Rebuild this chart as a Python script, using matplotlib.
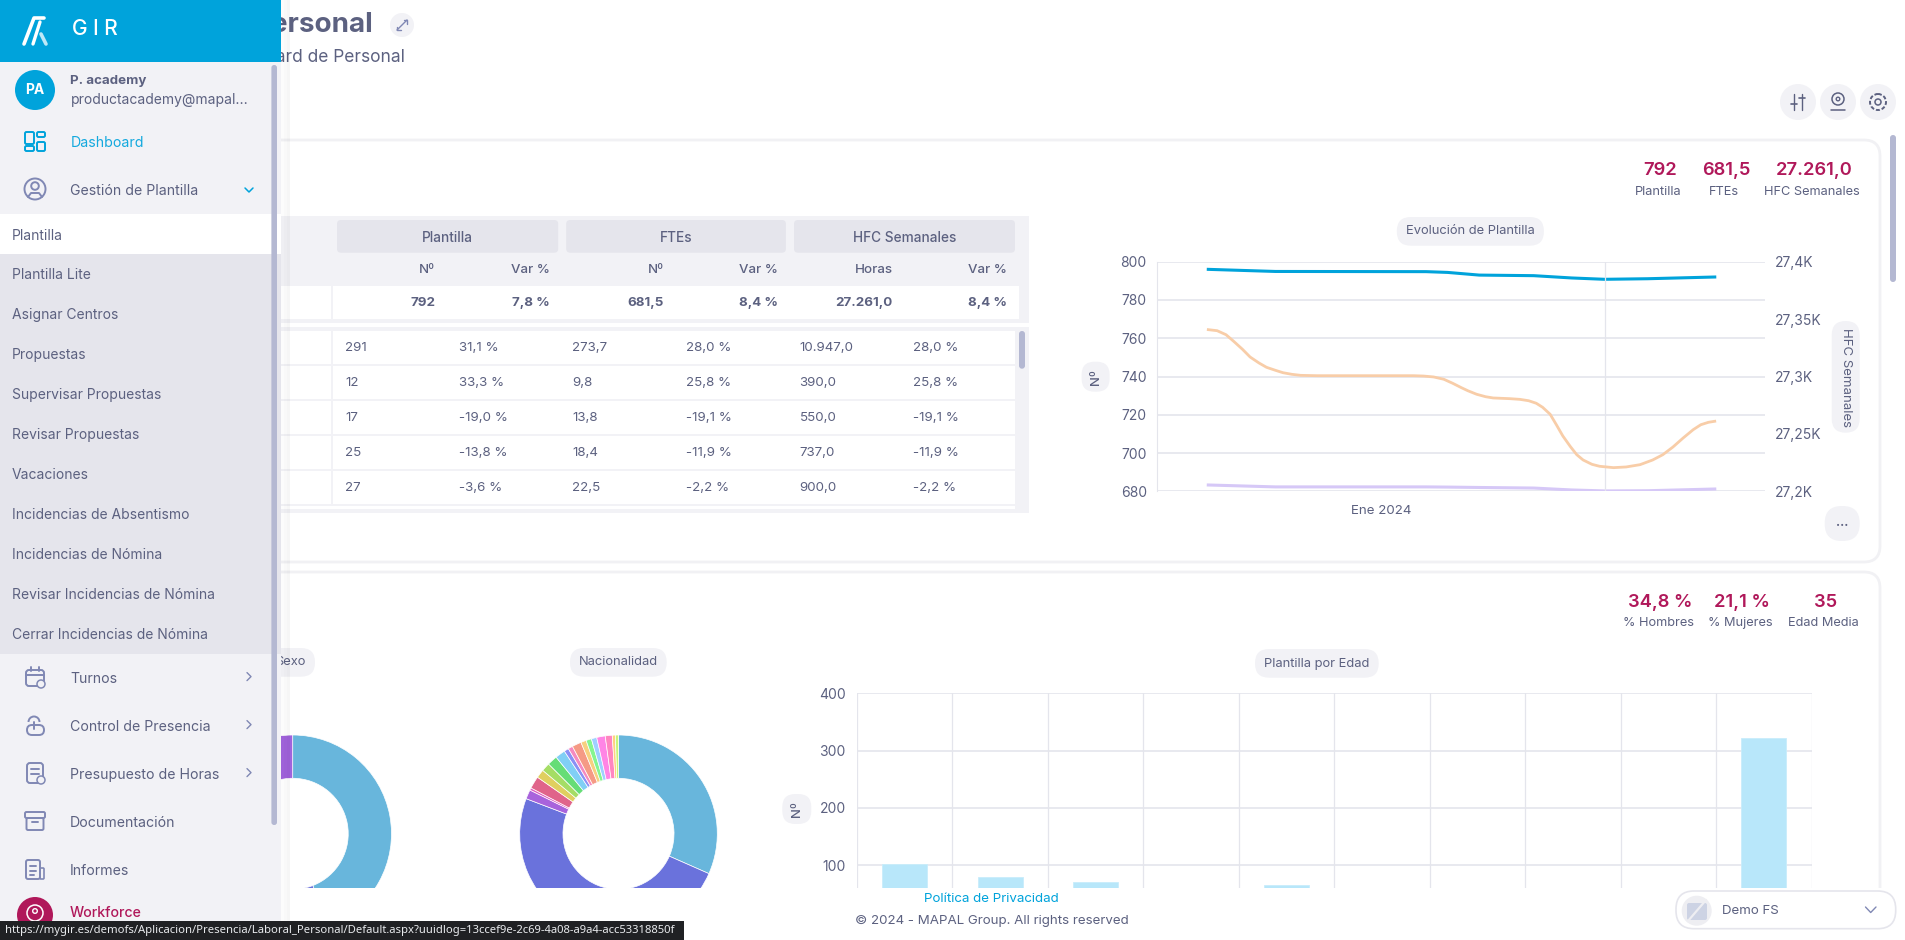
import matplotlib
matplotlib.use("Agg")
import matplotlib.pyplot as plt
from matplotlib.patches import FancyBboxPatch, Circle, Rectangle, Arc

W, H = 1905, 940
plt.rcParams['font.family'] = ['Inter', 'DejaVu Sans']

# evolucion de plantilla (x = semana del mes)
hfc_x = [0, 0.07, 0.14, 0.20, 0.27, 0.33, 0.40, 0.46, 0.53, 0.59, 0.66, 0.73, 0.86, 1.62, 1.70,
         1.78, 1.86, 1.93, 2.0, 2.05, 2.12, 2.19, 2.25, 2.38, 2.46, 2.53, 2.59, 2.64, 2.70, 2.75,
         2.80, 2.86, 2.91, 2.96, 3.03, 3.09, 3.20, 3.30, 3.41, 3.51, 3.59, 3.67, 3.75, 3.83,
         3.89, 3.95, 4]
hfc_semanales = [27340.8, 27339.9, 27336.4, 27330.7, 27323.7, 27317, 27311.8, 27308, 27305.4,
                 27303.3, 27301.9, 27301, 27300.7, 27300.7, 27300.4, 27299.6, 27297.6, 27294.1,
                 27290.2, 27287.6, 27284.5, 27282.4, 27281.3, 27280.7, 27280.1, 27278.9, 27276.7,
                 27273.2, 27267.1, 27257.8, 27248.2, 27238.9, 27231.9, 27227.3, 27223.5, 27221.8,
                 27220.6, 27221.2, 27223.2, 27227.3, 27231.9, 27238.6, 27246.4, 27253.7, 27258,
                 27260.1, 27261]
plantilla_x = [0, 0.53, 1.72, 1.89, 2.14, 2.57, 2.87, 3.13, 3.47, 4]
plantilla_n = [796, 794.9, 794.8, 794.4, 793, 792.7, 791.5, 790.8, 791.1, 792]
ftes_n = [683.3, 682.3, 682.3, 682.2, 682, 681.7, 680.7, 680.2, 680.3, 681.2]

# plantilla por edad (los valores bajo el corte son estimados)
edad_pos = [0, 1, 2, 3, 4, 5, 6, 7, 8, 9]
edad_n = [102, 80, 70, 45, 65, 35, 30, 25, 18, 322]

# donuts
sexo_vals = [44.1, 34.8, 21.1]
sexo_cols = ['#68B6DC', '#6A72DC', '#A063DC']
nac_vals = [250, 389, 12, 3, 16, 11, 11, 13, 13, 6, 6, 12, 7, 7, 7, 11, 9, 4, 4]
nac_cols = ['#68B6DC', '#6A72DC', '#A863DC', '#E05FC0', '#E0648A', '#E0CF60', '#A5DD65',
            '#66DD77', '#80CFF5', '#8A90F5', '#F58AC0', '#F59A85', '#F7D080', '#85F590',
            '#9FD0FF', '#FF85E5', '#FF85C0', '#FFD080', '#C8F57A']

# tabla
cols_x = [345, 458.9, 572.3, 686, 799.5, 913.3]
head_x = [435.2, 549.6, 664, 777.8, 892.7, 1006.6]
head_sub = ['Nº', 'Var %', 'Nº', 'Var %', 'Horas', 'Var %']
total_row = ['792', '7,8 %', '681,5', '8,4 %', '27.261,0', '8,4 %']
rows = [['291', '31,1 %', '273,7', '28,0 %', '10.947,0', '28,0 %'],
        ['12', '33,3 %', '9,8', '25,8 %', '390,0', '25,8 %'],
        ['17', '-19,0 %', '13,8', '-19,1 %', '550,0', '-19,1 %'],
        ['25', '-13,8 %', '18,4', '-11,9 %', '737,0', '-11,9 %'],
        ['27', '-3,6 %', '22,5', '-2,2 %', '900,0', '-2,2 %']]

# menu lateral
submenu = ['Plantilla Lite', 'Asignar Centros', 'Propuestas', 'Supervisar Propuestas',
           'Revisar Propuestas', 'Vacaciones', 'Incidencias de Absentismo',
           'Incidencias de Nómina', 'Revisar Incidencias de Nómina', 'Cerrar Incidencias de Nómina']
menu_low = ['Turnos', 'Control de Presencia', 'Presupuesto de Horas', 'Documentación', 'Informes']

TXT = '#5C6180'
ICON = '#8088B4'
BLUE = '#00A3DB'
RED = '#B0185A'
LIGHT = '#F2F2F6'
MID = '#E5E5EC'
GRID = '#E4E5EC'
THUMB = '#B4B8D2'

fig = plt.figure(figsize=(W / 100, H / 100), dpi=100, facecolor='white')


def px_axes(x0, y0, x1, y1, z):
    ax = fig.add_axes([x0 / W, 1 - y1 / H, (x1 - x0) / W, (y1 - y0) / H], zorder=z)
    ax.patch.set_alpha(0)
    return ax


def page_axes(z):
    ax = px_axes(0, 0, W, H, z)
    ax.set_xlim(0, W)
    ax.set_ylim(H, 0)
    ax.axis('off')
    return ax


def box(ax, x0, y0, x1, y1, color, r=0, ec='none', lw=0, z=1, alpha=None):
    if r:
        p = FancyBboxPatch((x0 + r, y0 + r), x1 - x0 - 2 * r, y1 - y0 - 2 * r,
                           boxstyle='round,pad=%f,rounding_size=%f' % (r, r),
                           fc=color, ec=ec, lw=lw, zorder=z, alpha=alpha)
    else:
        p = Rectangle((x0, y0), x1 - x0, y1 - y0, fc=color, ec=ec, lw=lw, zorder=z, alpha=alpha)
    ax.add_patch(p)


def label(ax, x, y, s, size=10, color=TXT, ha='center', weight='normal', rot=0, z=3, family=None):
    if rot == 0:
        y = y + 1
    ax.text(x, y, s, fontsize=size, color=color, ha=ha, va='center', fontweight=weight,
            rotation=rot, rotation_mode='anchor', zorder=z, family=family)


def stroke(ax, xs, ys, color=ICON, lw=1.4, z=3):
    ax.plot(xs, ys, color=color, lw=lw, zorder=z, solid_capstyle='round')


def ring(ax, x, y, r, color=ICON, lw=1.4, z=6, fc='none'):
    ax.add_patch(Circle((x, y), r, fc=fc, ec=color, lw=lw, zorder=z))


bg = page_axes(0)
top = page_axes(5)

# tarjetas
box(bg, 200, 140, 1880, 562, 'white', r=16, ec='#F1F1F4', lw=2)
box(bg, 200, 572, 1880, 930, 'white', r=16, ec='#F1F1F4', lw=2)

# cabecera
label(bg, 373, 24, 'Personal', size=20, ha='right', weight='bold')
label(bg, 405, 56, 'Dashboard de Personal', size=12.5, ha='right')
bg.add_patch(Circle((402, 25), 12, fc=LIGHT, ec='none'))
stroke(bg, [397, 407], [30, 20], lw=1)
stroke(bg, [403.5, 407, 407], [20, 20, 23.5], lw=1)
stroke(bg, [397, 397, 400.5], [26.5, 30, 30], lw=1)
for cx in [1798, 1838, 1878]:
    bg.add_patch(Circle((cx, 102), 18, fc=LIGHT, ec='none'))
stroke(bg, [1794, 1794], [94, 110], color=TXT, lw=1)
stroke(bg, [1802, 1802], [94, 110], color=TXT, lw=1)
stroke(bg, [1791, 1797], [104, 104], color=TXT, lw=1.2)
stroke(bg, [1799, 1805], [98, 98], color=TXT, lw=1.2)
ring(bg, 1838, 99, 6, color=TXT, lw=1.1, z=3)
ring(bg, 1838, 99, 1.8, color=TXT, lw=1, z=3)
stroke(bg, [1831, 1845], [110, 110], color=TXT, lw=1.1)
bg.add_patch(Circle((1878, 102), 8, fc='none', ec=TXT, lw=1.4, ls=(0, (2, 1))))
ring(bg, 1878, 102, 3, color=TXT, lw=1.1, z=3)

# KPIs
for x, y, s in [(1660, 169.7, '792'), (1726, 169.7, '681,5'), (1814, 169.7, '27.261,0'),
                (1660.3, 601.7, '34,8 %'), (1742, 601.7, '21,1 %'), (1825.3, 601.7, '35')]:
    label(bg, x, y, s, size=13.2, color=RED, weight='semibold')
for x, y, s in [(1658.2, 190.7, 'Plantilla'), (1724, 190.7, 'FTEs'), (1812.3, 190.7, 'HFC Semanales'),
                (1658.8, 622.3, '% Hombres'), (1740.6, 622.3, '% Mujeres'), (1823, 622.3, 'Edad Media')]:
    label(bg, x, y, s, size=9.2)

# tabla
box(bg, 200, 216, 1028.7, 322.7, LIGHT)
for x0, x1, s in [(337, 558.2, 'Plantilla'), (566.2, 785.9, 'FTEs'), (794, 1015, 'HFC Semanales')]:
    box(bg, x0, 220, x1, 252.7, MID, r=4)
    label(bg, (x0 + x1) / 2, 236.5, s, size=9.8, weight='medium')
for x, s in zip(head_x, head_sub):
    label(bg, x, 269.3, s, size=9.6, ha='right', weight='medium')
box(bg, 200, 286, 1019.2, 318.7, 'white')
box(bg, 331, 286, 332.5, 318.7, LIGHT)
for x, s in zip(head_x, total_row):
    label(bg, x, 301.7, s, size=9.6, ha='right', weight='bold')
box(bg, 200, 326.7, 1028.7, 512.7, LIGHT)
row_y = [331, 366, 401, 436, 471]
for y, row in zip(row_y, rows):
    box(bg, 200, y, 1015, y + 33, 'white')
    box(bg, 331, y, 332.5, y + 33, LIGHT)
    for x, s in zip(cols_x, row):
        label(bg, x, y + 16, s, size=9.6, ha='left')
box(bg, 200, 506, 1015, 508.7, 'white')
box(bg, 1019, 331, 1025, 368.7, THUMB, r=3)

# pastillas de titulos
box(bg, 1396.8, 217, 1543.9, 245.7, LIGHT, r=14)
label(bg, 1470, 230.5, 'Evolución de Plantilla', size=9.3)
box(bg, 1081.6, 361.7, 1109.6, 391.7, LIGHT, r=13)
label(bg, 1096, 376.7, 'Nº', size=9.5, rot=90, weight='medium')
box(bg, 1831.7, 321, 1859.7, 432.7, LIGHT, r=14)
label(bg, 1845.7, 377, 'HFC Semanales', size=9.5, rot=-90)
box(bg, 1824.7, 506, 1859.7, 541, LIGHT, r=17)
label(bg, 1842.2, 522, '...', size=9, weight='bold')
box(bg, 1255, 649, 1378.7, 677.7, LIGHT, r=14)
label(bg, 1317, 662.5, 'Plantilla por Edad', size=9.3)
box(bg, 782.3, 794, 811.3, 824, LIGHT, r=13)
label(bg, 797, 809, 'Nº', size=9.5, rot=90, weight='medium')
box(bg, 570, 648, 666.7, 676.7, LIGHT, r=14)
label(bg, 618.3, 661, 'Nacionalidad', size=9.3)
box(bg, 230, 648, 315, 676.7, LIGHT, r=14)
label(bg, 306, 661, 'Sexo', size=9.3, ha='right')

# evolucion
ax = px_axes(1156.5, 261.7, 1764.9, 491.3, 1)
ax2 = ax.twinx()
ax2.patch.set_alpha(0)
ax.plot(plantilla_x, plantilla_n, color=BLUE, lw=2.2)
ax.plot(plantilla_x, ftes_n, color='#D6C8F7', lw=2.2)
ax2.plot(hfc_x, hfc_semanales, color='#F8CDA8', lw=2)
ax.set_xlim(-0.409, 4.396)
ax.set_ylim(680, 800)
ax2.set_ylim(27200, 27400)
ax.set_yticks([680, 700, 720, 740, 760, 780, 800])
ax2.set_yticks([27200, 27250, 27300, 27350, 27400])
ax2.set_yticklabels(['27,2K', '27,25K', '27,3K', '27,35K', '27,4K'])
ax.set_xticks([1.366])
ax.set_xticklabels(['Ene 2024'])
ax.axvline(3.136, color=GRID, lw=0.9)
ax.grid(axis='y', color=GRID, lw=1.2)
ax.set_axisbelow(True)
for a in (ax, ax2):
    for side, sp in a.spines.items():
        sp.set_visible(side == 'left' and a is ax)
        sp.set_color(GRID)
ax.tick_params(axis='y', length=0, pad=7, labelsize=10, labelcolor=TXT)
ax.tick_params(axis='x', length=0, pad=10, labelsize=9.6, labelcolor=TXT)
ax2.tick_params(axis='y', length=0, pad=7, labelsize=10, labelcolor=TXT)

# edad: el pie de pagina corta el grafico, el eje empieza en el corte
ax3 = px_axes(856.9, 693.3, 1811.6, 887.7, 1)
ax3.bar(edad_pos, edad_n, width=0.47, color='#B8E7FA', edgecolor='#C9EDFB', lw=0.6)
ax3.set_xlim(-0.5, 9.5)
ax3.set_ylim(60.9, 400)
ax3.set_yticks([100, 200, 300, 400])
ax3.set_xticks([p - 0.5 for p in edad_pos] + [9.5])
ax3.set_xticklabels([])
ax3.grid(axis='x', color=GRID, lw=0.9)
ax3.grid(axis='y', color=GRID, lw=1.2)
ax3.set_axisbelow(True)
for sp in ax3.spines.values():
    sp.set_visible(False)
ax3.tick_params(length=0, pad=8, labelsize=10, labelcolor=TXT)


def donut(cx, vals, cols):
    R = 98.8 * 1.02
    a = px_axes(cx - R, 833.8 - R, cx + R, 833.8 + R, 1)
    a.pie(vals, colors=cols, startangle=90, counterclock=False, radius=1,
          wedgeprops={'width': 0.438, 'edgecolor': 'white', 'linewidth': 0.5})
    a.set_xlim(-1.02, 1.02)
    a.set_ylim(-1.02, 1.02)


donut(292.7, sexo_vals, sexo_cols)
donut(618.5, nac_vals, nac_cols)

# pie de pagina, tapa los graficos
box(top, 281, 887.7, W, H, 'white', z=1)
label(top, 991.5, 898.5, 'Política de Privacidad', size=9.6, color=BLUE)
label(top, 991.5, 920, '© 2024 - MAPAL Group. All rights reserved', size=9.6)
box(top, 1676, 891, 1895.7, 928.7, 'white', r=18, ec=MID, lw=1.2, z=2)
top.add_patch(Circle((1696.7, 910.7), 15, fc='#EEEEF2', ec='none', zorder=3))
box(top, 1687, 903, 1707, 920, '#CDD3E4', r=2, z=4)
stroke(top, [1688, 1706], [921, 900], color='#EEEEF2', lw=1.6, z=5)
label(top, 1721.7, 910.2, 'Demo FS', size=9.6, ha='left')
stroke(top, [1865.5, 1870.7, 1876], [907, 912.5, 907], color=ICON, lw=1)
box(top, 1890, 135, 1896, 282, THUMB, r=3, z=2)

# menu lateral
for x in [281, 284, 287]:
    box(top, x, 0, 290, 921, 'black', z=3, alpha=0.012)
box(top, 0, 0, 281, H, LIGHT, z=4)
box(top, 0, 0, 281, 62, BLUE, z=5)
stroke(top, [24, 34, 44], [44, 18, 18], color='white', lw=2.6, z=6)
stroke(top, [33, 40], [44, 22], color='white', lw=2.4, z=6)
stroke(top, [41, 46], [34, 44], color='#BDE8F7', lw=2.6, z=6)
label(top, 95, 28.3, 'G I R', size=15, color='white', weight='medium', z=6)

top.add_patch(Circle((35, 90), 20, fc=BLUE, ec='none', zorder=6))
label(top, 35, 89.5, 'PA', size=10, color='white', weight='bold', z=7)
label(top, 70.4, 80.3, 'P. academy', size=9.6, ha='left', weight='bold', z=6)
label(top, 70.4, 98.7, 'productacademy@mapal...', size=10, ha='left', z=6)
label(top, 70.4, 141.7, 'Dashboard', size=10.2, color='#14A9DE', ha='left', z=6)
for x0, y0, x1, y1 in [(25, 132, 34, 144), (37, 132, 45, 137), (25, 146, 34, 151), (37, 142, 45, 151)]:
    box(top, x0, y0, x1, y1, 'none', r=1.5, ec=BLUE, lw=1.4, z=6)
label(top, 70.4, 190, 'Gestión de Plantilla', size=10.2, ha='left', z=6)
ring(top, 35, 189, 10.5)
ring(top, 35, 186, 3.8)
stroke(top, [28, 31, 39, 42], [197, 193, 193, 197], z=6)
stroke(top, [245, 249, 253], [188, 192, 188], color=BLUE, lw=1.1, z=6)

box(top, 0, 214, 281, 254, 'white', z=5)
label(top, 12, 234.5, 'Plantilla', size=10, ha='left', z=6)
box(top, 0, 254, 281, 654, MID, z=5)
for i, s in enumerate(submenu):
    label(top, 12, 273.8 + 40 * i, s, size=10, ha='left', z=6)

for i, s in enumerate(menu_low):
    y = 677.6 + 48 * i
    label(top, 70, y, s, size=10.2, ha='left', z=6)
    if i < 3:
        stroke(top, [247, 251, 247], [y - 5, y - 1, y + 3], lw=1, z=6)

# iconos del menu
box(top, 26, 670, 44, 686, 'none', r=3, ec=ICON, lw=1.4, z=6)
stroke(top, [26, 44], [675, 675], z=6)
stroke(top, [31, 31], [667, 671], z=6)
stroke(top, [39, 39], [667, 671], z=6)
ring(top, 41, 684, 4, fc=LIGHT, lw=1.1, z=7)
top.add_patch(Arc((34, 722), 11, 11, theta1=180, theta2=360, ec=ICON, lw=1.4, zorder=6))
box(top, 27, 725, 44, 735, 'none', r=5, ec=ICON, lw=1.4, z=6)
stroke(top, [34, 34], [722, 729], z=6)
box(top, 27, 763, 43, 783, 'none', r=3, ec=ICON, lw=1.4, z=6)
stroke(top, [31, 39], [769, 769], z=6)
stroke(top, [31, 39], [774, 774], z=6)
ring(top, 41, 780, 4, fc=LIGHT, lw=1.1, z=7)
box(top, 25, 812, 45, 818, 'none', r=1.5, ec=ICON, lw=1.4, z=6)
box(top, 26.5, 818, 43.5, 830, 'none', r=1.5, ec=ICON, lw=1.4, z=6)
stroke(top, [32, 38], [822, 822], z=6)
box(top, 26, 860, 40, 879, 'none', r=2, ec=ICON, lw=1.4, z=6)
box(top, 40, 868, 44, 879, 'none', r=1, ec=ICON, lw=1.2, z=6)
stroke(top, [30, 36], [866, 866], z=6)
stroke(top, [30, 36], [871, 871], z=6)
stroke(top, [30, 34], [875, 875], z=6)

label(top, 70, 912, 'Workforce', size=10.2, color=RED, ha='left', weight='medium', z=6)
top.add_patch(Circle((35, 915), 18, fc=RED, ec='none', zorder=6))
ring(top, 35, 913, 8, color='white', lw=1.1, z=7)
ring(top, 35, 911, 2.3, color='white', lw=1, z=7)
box(top, 271.4, 65, 277, 825, THUMB, r=2.7, z=6)

# barra de estado del navegador
box(top, 0, 920.7, 684, H, '#202124', z=8)
label(top, 5, 929.5,
      'https://mygir.es/demofs/Aplicacion/Presencia/Laboral_Personal/Default.aspx?uuidlog=13ccef9e-2c69-4a08-a9a4-acc53318850f',
      size=8.1, color='#E8EAED', ha='left', z=9, family=['Noto Sans', 'DejaVu Sans'])

fig.savefig('out.png', dpi=100, facecolor='white')
